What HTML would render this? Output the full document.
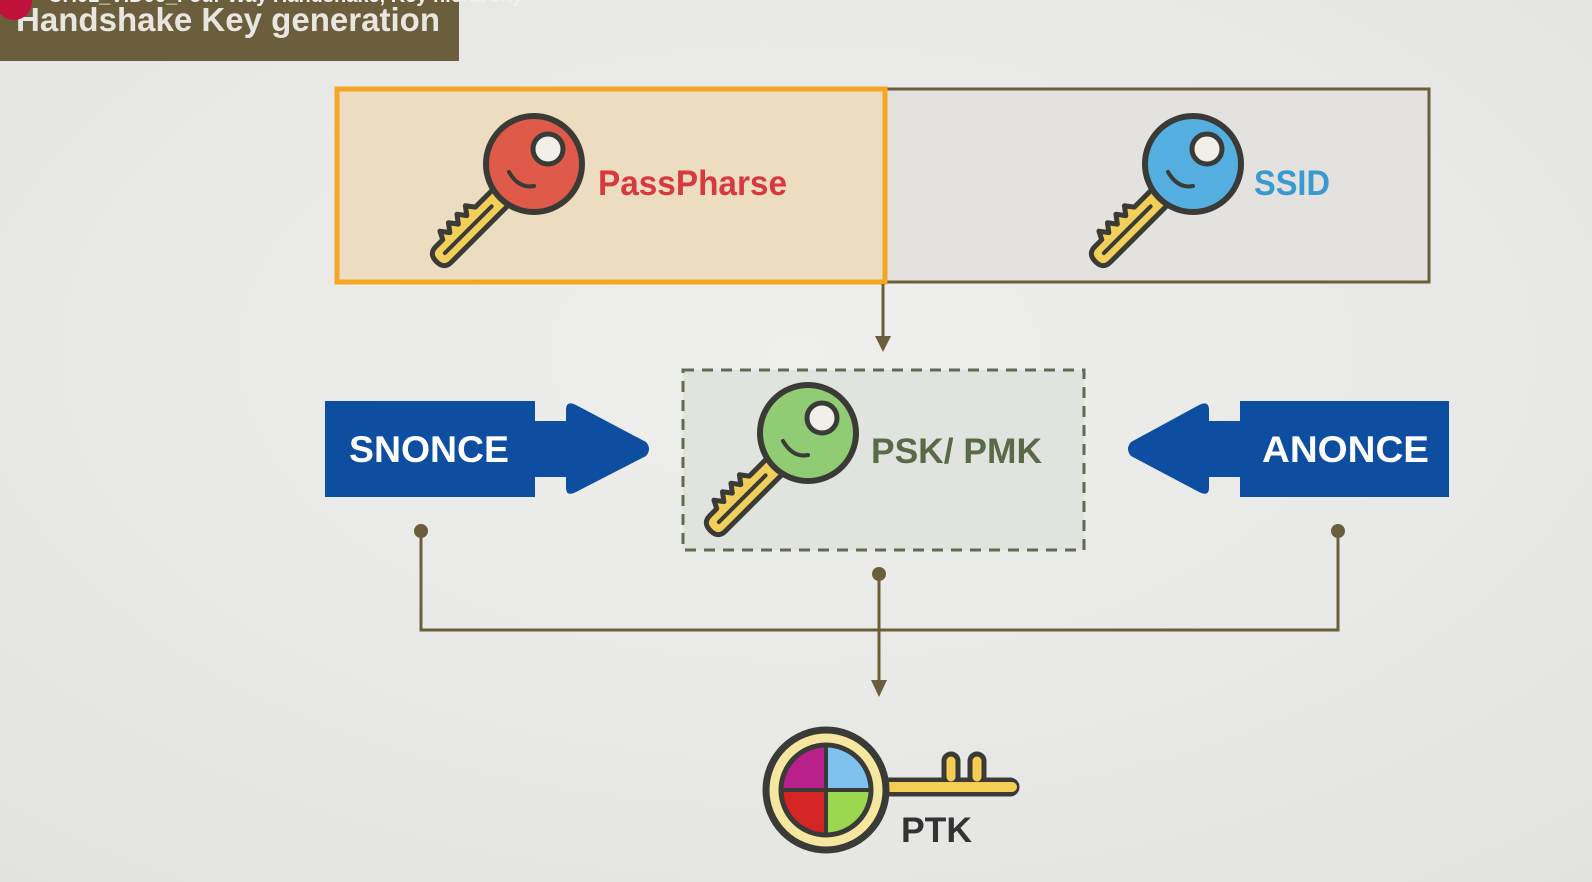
<!DOCTYPE html>
<html><head><meta charset="utf-8"><style>
html,body{margin:0;padding:0;width:1592px;height:882px;overflow:hidden;background:#ececea;}
svg{display:block}
text{font-family:"Liberation Sans",sans-serif;font-weight:bold}
</style></head><body>
<svg width="1592" height="882" viewBox="0 0 1592 882" xmlns="http://www.w3.org/2000/svg">
<defs>
<radialGradient id="bg" cx="0.5" cy="0.4" r="0.8">
<stop offset="0" stop-color="#efefed"/><stop offset="1" stop-color="#e2e2e0"/>
</radialGradient>
<g id="shaft">
  <g transform="rotate(135)">
    <path d="M40 -11 L128 -11 Q138 -11 138 0 Q138 11 128 11 L118 11 L114 19 L108 11 L102 19 L96 11 L90 19 L84 11 L78 19 L72 11 L40 11 Z" fill="#f2cf5a" stroke="#3a3a36" stroke-width="5" stroke-linejoin="round"/>
    <line x1="60" y1="0" x2="126" y2="0" stroke="#3a3a36" stroke-width="4" stroke-linecap="round"/>
  </g>
</g>
</defs>
<rect width="1592" height="882" fill="url(#bg)"/>
<rect x="0" y="0" width="459" height="61" fill="#6b5e3c"/>
<text x="16" y="31" font-size="33" fill="#e8e6e0" textLength="424" lengthAdjust="spacingAndGlyphs">Handshake Key generation</text>
<circle cx="14" cy="2" r="18" fill="#c0123a"/>
<text x="48" y="2" font-size="20" fill="#f0f0f0" font-weight="normal">CH01_VID06_Four Way Handshake, Key hierarchy</text>

<rect x="885" y="89" width="544" height="193" fill="#e3e2de" stroke="#6b5e3c" stroke-width="3"/>
<rect x="337" y="89" width="548" height="193" fill="#ecdcc0" stroke="#f5a623" stroke-width="5"/>
<g transform="translate(534,164)">
  <use href="#shaft"/>
  <circle r="48" fill="#e05a4a" stroke="#3a3a36" stroke-width="6"/>
  <circle cx="14" cy="-15" r="15" fill="#f2efe8" stroke="#3a3a36" stroke-width="5"/>
  <path d="M-25 8 Q-15 25 0 22" fill="none" stroke="#3a3a36" stroke-width="4" stroke-linecap="round"/>
</g>
<text x="598" y="195" font-size="35" fill="#d8393e" textLength="189" lengthAdjust="spacingAndGlyphs">PassPharse</text>
<g transform="translate(1193,164)">
  <use href="#shaft"/>
  <circle r="48" fill="#55aee0" stroke="#3a3a36" stroke-width="6"/>
  <circle cx="14" cy="-15" r="15" fill="#f2efe8" stroke="#3a3a36" stroke-width="5"/>
  <path d="M-25 8 Q-15 25 0 22" fill="none" stroke="#3a3a36" stroke-width="4" stroke-linecap="round"/>
</g>
<text x="1254" y="195" font-size="35" fill="#3a9ad0" textLength="76" lengthAdjust="spacingAndGlyphs">SSID</text>

<line x1="883" y1="284" x2="883" y2="340" stroke="#6b5e3c" stroke-width="3"/>
<path d="M875 336 L883 352 L891 336 Z" fill="#6b5e3c"/>

<rect x="683" y="370" width="401" height="180" fill="#e1e3df" stroke="#5e6b50" stroke-width="3" stroke-dasharray="11 8"/>
<g transform="translate(808,433)">
  <use href="#shaft"/>
  <circle r="48" fill="#8fcc74" stroke="#3a3a36" stroke-width="6"/>
  <circle cx="14" cy="-15" r="15" fill="#f2efe8" stroke="#3a3a36" stroke-width="5"/>
  <path d="M-25 8 Q-15 25 0 22" fill="none" stroke="#3a3a36" stroke-width="4" stroke-linecap="round"/>
</g>
<text x="871" y="463" font-size="35" fill="#5a6a48" textLength="171" lengthAdjust="spacingAndGlyphs">PSK/ PMK</text>

<path d="M325 401 L535 401 L535 421 L566 421 L566 410 Q566 400 576 405 L646 442 Q652 449 646 456 L576 492 Q566 497 566 488 L566 477 L535 477 L535 497 L325 497 Z" fill="#0d4ea0"/>
<text x="349" y="462" font-size="37" fill="#ffffff" textLength="160" lengthAdjust="spacingAndGlyphs">SNONCE</text>
<path d="M1449 401 L1240 401 L1240 421 L1209 421 L1209 410 Q1209 400 1199 405 L1131 442 Q1125 449 1131 456 L1199 492 Q1209 497 1209 488 L1209 477 L1240 477 L1240 497 L1449 497 Z" fill="#0d4ea0"/>
<text x="1262" y="462" font-size="37" fill="#ffffff" textLength="167" lengthAdjust="spacingAndGlyphs">ANONCE</text>

<g stroke="#6b5e3c" stroke-width="3" fill="none">
<path d="M421 531 L421 630 L1338 630 L1338 531"/>
<line x1="879" y1="574" x2="879" y2="685"/>
</g>
<circle cx="421" cy="531" r="7" fill="#6b5e3c"/>
<circle cx="1338" cy="531" r="7" fill="#6b5e3c"/>
<circle cx="879" cy="574" r="7" fill="#6b5e3c"/>
<path d="M871 680 L879 697 L887 680 Z" fill="#6b5e3c"/>

<g>
  <rect x="880" y="780" width="137" height="14" rx="7" fill="#f5cd55" stroke="#3a3a36" stroke-width="5"/>
  <rect x="944" y="754" width="14" height="30" rx="7" fill="#f5cd55" stroke="#3a3a36" stroke-width="5"/>
  <rect x="970" y="754" width="14" height="30" rx="7" fill="#f5cd55" stroke="#3a3a36" stroke-width="5"/>
  <rect x="880" y="782" width="137" height="10" rx="5" fill="#f5cd55"/>
  <circle cx="826" cy="790" r="60" fill="#f6e7a0" stroke="#3a3a36" stroke-width="7"/>
  <path d="M826 790 L826 745 A45 45 0 0 0 781 790 Z" fill="#b8218a"/>
  <path d="M826 790 L826 745 A45 45 0 0 1 871 790 Z" fill="#7ec3f0"/>
  <path d="M826 790 L781 790 A45 45 0 0 0 826 835 Z" fill="#d42424"/>
  <path d="M826 790 L871 790 A45 45 0 0 1 826 835 Z" fill="#9ad64e"/>
  <circle cx="826" cy="790" r="45" fill="none" stroke="#3a3a36" stroke-width="5"/>
  <path d="M826 745 L826 835 M781 790 L871 790" stroke="#3a3a36" stroke-width="4"/>
</g>
<text x="901" y="842" font-size="35" fill="#333333" textLength="71" lengthAdjust="spacingAndGlyphs">PTK</text>
</svg>
</body></html>
